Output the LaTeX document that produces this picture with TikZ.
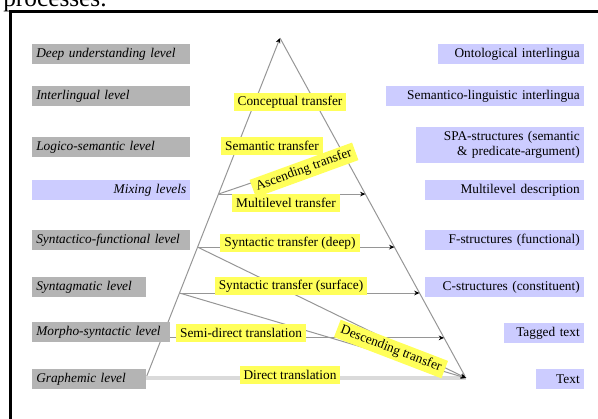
\documentclass[tikz,border=0pt]{standalone}
\usepackage{fontspec}
\setmainfont{Liberation Serif}
\usetikzlibrary{arrows.meta,calc}
\definecolor{lvlgray}{RGB}{180,180,180}
\definecolor{repblue}{RGB}{204,204,255}
\definecolor{tryellow}{RGB}{255,255,90}
\definecolor{linegray}{RGB}{150,150,150}
\definecolor{directgray}{RGB}{218,218,218}

\begin{document}
\begin{tikzpicture}[x=0.75pt,y=-0.75pt,font=\fontsize{10}{11}\selectfont]
\tikzset{lvl/.style={fill=lvlgray, anchor=west, text width=#1, align=left, inner xsep=3pt, inner ysep=0pt, minimum height=15pt, font=\fontsize{10}{11}\selectfont\itshape}}
\tikzset{mix/.style={lvl=112.5pt, fill=repblue, align=right}}
\tikzset{rep/.style={fill=repblue, anchor=east, text width=#1, align=right, inner xsep=3pt, inner ysep=0pt, minimum height=15pt}}
\tikzset{tr/.style={fill=tryellow, inner xsep=3pt, inner ysep=0pt, minimum height=14pt}}
\tikzset{edge/.style={draw=linegray, line width=0.75pt}}
\tikzset{link/.style={draw=linegray, line width=0.75pt, -{Stealth[length=4pt,width=3.5pt,black]}}}
\useasboundingbox (0,0) rectangle (598,418);
\node[anchor=base west, inner sep=0pt, font=\fontsize{19}{22}\selectfont] (P) at (3,6.5) {processes.};
\draw[line width=2.25pt] (10.5,430) |- (610,11.5);
% pyramid
\coordinate (A) at (280,38);
\coordinate (B) at (146,378);
\coordinate (C) at (466,378);
\coordinate (l4) at ($(B)!0.541!(A)$);
\coordinate (l5) at ($(B)!0.385!(A)$);
\coordinate (l6) at ($(B)!0.25!(A)$);
\coordinate (l7) at ($(B)!0.118!(A)$);
\coordinate (r3) at ($(C)!0.665!(A)$);
\coordinate (r4) at ($(C)!0.541!(A)$);
\coordinate (r5) at ($(C)!0.385!(A)$);
\coordinate (r6) at ($(C)!0.25!(A)$);
\coordinate (r7) at ($(C)!0.118!(A)$);
\draw[edge, -{Stealth[length=4pt,width=3.5pt,black]}] (B) -- (A);
\draw[edge] (C) -- (A);
\draw[directgray, line width=3pt] (B) -- (C);
\draw[link] (l4) -- (r4);
\draw[link] (l4) -- (r3);
\draw[link] (l5) -- (r5);
\draw[link] (l6) -- (r6);
\draw[link] (l7) -- (r7);
\draw[link] (l5) -- (C);
\draw[link] (l6) -- (C);
% levels
\node[lvl=112.5pt] (L1) at (32,54) {Deep understanding level};
\node[lvl=112.5pt] (L2) at (32,96) {Interlingual level};
\node[lvl=112.5pt] (L3) at (32,147) {Logico-semantic level};
\node[mix] (L4) at (32,190) {Mixing levels};
\node[lvl=112.5pt] (L5) at (32,240) {Syntactico-functional level};
\node[lvl=79.5pt] (L6) at (32,287) {Syntagmatic level};
\node[lvl=97.5pt] (L7) at (32,332) {Morpho-syntactic level};
\node[lvl=79.5pt] (L8) at (32,379) {Graphemic level};
% representations
\node[rep=103.5pt] (R1) at (584,54) {Ontological interlingua};
\node[rep=142.5pt] (R2) at (584,96) {Semantico-linguistic interlingua};
\node[rep=120pt, minimum height=27pt] (R3) at (584,144.5) {SPA-structures (semantic\\ \& predicate-argument)};
\node[rep=113.25pt] (R4) at (584,190) {Multilevel description};
\node[rep=113.25pt] (R5) at (584,240) {F-structures (functional)};
\node[rep=113.25pt] (R6) at (584,287) {C-structures (constituent)};
\node[rep=54pt] (R7) at (584,333) {Tagged text};
\node[rep=30pt] (R8) at (584,379) {Text};
% transfers
\node[tr] (T1) at (290,102) {Conceptual transfer};
\node[tr] (T2) at (272,146) {Semantic transfer};
\node[tr, rotate=20] (T8) at (304,170) {Ascending transfer};
\node[tr] (T3) at (286,203) {Multilevel transfer};
\node[tr] (T4) at (290,243) {Syntactic transfer (deep)};
\node[tr] (T5) at (291,286) {Syntactic transfer (surface)};
\node[tr] (T6) at (241,333) {Semi-direct translation};
\node[tr] (T7) at (290,375) {Direct translation};
\node[tr, rotate=-21] (T9) at (391,349) {Descending transfer};
\end{tikzpicture}
\end{document}
